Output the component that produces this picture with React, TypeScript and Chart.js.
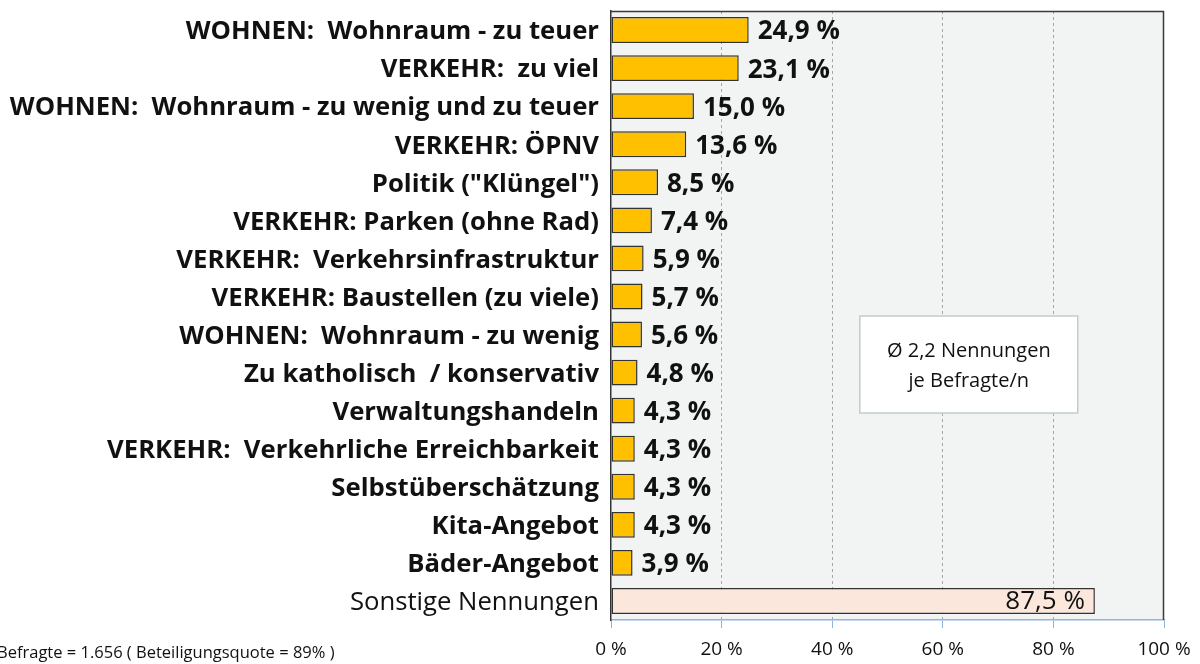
import React, { useEffect, useRef } from "react";
import { Chart, registerables } from "chart.js";

Chart.register(...registerables);

const categories = [
  "WOHNEN:  Wohnraum - zu teuer",
  "VERKEHR:  zu viel",
  "WOHNEN:  Wohnraum - zu wenig und zu teuer",
  "VERKEHR: ÖPNV",
  "Politik (\"Klüngel\")",
  "VERKEHR: Parken (ohne Rad)",
  "VERKEHR:  Verkehrsinfrastruktur",
  "VERKEHR: Baustellen (zu viele)",
  "WOHNEN:  Wohnraum - zu wenig",
  "Zu katholisch  / konservativ",
  "Verwaltungshandeln",
  "VERKEHR:  Verkehrliche Erreichbarkeit",
  "Selbstüberschätzung",
  "Kita-Angebot",
  "Bäder-Angebot",
  "Sonstige Nennungen",
];

const values = [24.9, 23.1, 15.0, 13.6, 8.5, 7.4, 5.9, 5.7, 5.6, 4.8, 4.3, 4.3, 4.3, 4.3, 3.9, 87.5];

const xTicks = [0, 20, 40, 60, 80, 100];

const footnote = "Befragte = 1.656 ( Beteiligungsquote = 89% )";
const noteLines = ["Ø 2,2 Nennungen", "je Befragte/n"];

const FONT = "'Open Sans', sans-serif";

const fmt = (v: number) => v.toFixed(1).replace(".", ",") + " %";

export default function App() {
  const ref = useRef<HTMLCanvasElement | null>(null);

  useEffect(() => {
    if (!ref.current) return;
    const last = categories.length - 1;

    const bgPlugin = {
      id: "bgPlugin",
      beforeDraw(chart: any) {
        const { ctx, chartArea } = chart;
        ctx.save();
        ctx.fillStyle = "#F2F4F3";
        ctx.fillRect(chartArea.left, chartArea.top, chartArea.right - chartArea.left, chartArea.bottom - chartArea.top);
        ctx.restore();
      },
      afterDraw(chart: any) {
        const { ctx, chartArea } = chart;
        ctx.save();
        // top & right frame
        ctx.strokeStyle = "#3a3a3a";
        ctx.lineWidth = 1.5;
        ctx.beginPath();
        ctx.moveTo(chartArea.left, chartArea.top + 0.5);
        ctx.lineTo(chartArea.right - 0.5, chartArea.top + 0.5);
        ctx.lineTo(chartArea.right - 0.5, chartArea.bottom);
        ctx.stroke();

        // note box
        const w = chartArea.right - chartArea.left;
        const h = chartArea.bottom - chartArea.top;
        const bx = chartArea.left + 0.45 * w;
        const bx2 = chartArea.left + 0.844 * w;
        const by = chartArea.top + (305 / 609) * h;
        const by2 = chartArea.top + (402 / 609) * h;
        ctx.fillStyle = "#ffffff";
        ctx.fillRect(bx, by, bx2 - bx, by2 - by);
        ctx.strokeStyle = "#C3CBCE";
        ctx.lineWidth = 1.5;
        ctx.strokeRect(bx, by, bx2 - bx, by2 - by);
        ctx.fillStyle = "#111";
        ctx.font = `20px ${FONT}`;
        ctx.textAlign = "center";
        ctx.textBaseline = "middle";
        const cx = (bx + bx2) / 2;
        const cy = (by + by2) / 2;
        ctx.fillText(noteLines[0], cx, cy - 13);
        ctx.fillText(noteLines[1], cx, cy + 17);

        // footnote
        ctx.textAlign = "left";
        ctx.font = `16.5px ${FONT}`;
        ctx.fillStyle = "#111";
        ctx.fillText(footnote, -3, 653);
        ctx.restore();
      },
      afterDatasetsDraw(chart: any) {
        const { ctx } = chart;
        const meta = chart.getDatasetMeta(0);
        ctx.save();
        ctx.textBaseline = "middle";
        meta.data.forEach((bar: any, i: number) => {
          const v = values[i];
          if (i === last) {
            ctx.font = `26px ${FONT}`;
            ctx.fillStyle = "#111";
            ctx.textAlign = "right";
            ctx.fillText(fmt(v), bar.x - 10, bar.y + 1);
          } else {
            ctx.font = `bold 26px ${FONT}`;
            ctx.fillStyle = "#111";
            ctx.textAlign = "left";
            ctx.fillText(fmt(v), bar.x + 9, bar.y + 2);
          }
        });
        ctx.restore();
      },
    };

    const chart = new Chart(ref.current, {
      type: "bar",
      data: {
        labels: categories,
        datasets: [
          {
            data: values,
            backgroundColor: values.map((_, i) => (i === last ? "#FCE7DC" : "#FFC000")),
            borderColor: "#333333",
            borderWidth: 1.5,
            borderSkipped: false,
            categoryPercentage: 1,
            barPercentage: 0.68,
          },
        ],
      },
      options: {
        indexAxis: "y",
        animation: false,
        responsive: false,
        maintainAspectRatio: false,
        layout: { padding: { top: 11, right: 36, left: 0, bottom: 0 } },
        plugins: { legend: { display: false }, tooltip: { enabled: false } },
        scales: {
          x: {
            min: 0,
            max: 100,
            afterBuildTicks: (scale: any) => {
              scale.ticks = xTicks.map((v) => ({ value: v }));
            },
            afterFit: (scale: any) => {
              scale.height = 44;
              scale.paddingLeft = 0;
              scale.paddingRight = 0;
            },
            ticks: {
              callback: (v: any) => v + " %",
              font: { family: FONT, size: 19 },
              color: "#111",
              padding: 10,
              maxRotation: 0,
            },
            grid: {
              color: (ctx: any) =>
                ctx.tick && (ctx.tick.value === 0 || ctx.tick.value === 100) ? "rgba(0,0,0,0)" : "#A3A7A8",
              tickColor: "#8DB4E2",
              tickLength: 8,
              lineWidth: 1,
            },
            border: { display: true, color: "#8DB4E2", width: 1.5, dash: [3, 3] },
          },
          y: {
            afterFit: (scale: any) => {
              scale.width = 611;
              scale.paddingTop = 0;
              scale.paddingBottom = 0;
            },
            ticks: {
              font: (ctx: any) => ({
                family: FONT,
                size: 25.7,
                weight: ctx.index === last ? "normal" : "bold",
              }),
              color: "#111",
              padding: 12,
              labelOffset: 2,
              autoSkip: false,
            },
            grid: { display: false, drawTicks: false },
            border: { display: true, color: "#333333", width: 1.5 },
          },
        },
      },
      plugins: [bgPlugin],
    } as any);

    return () => chart.destroy();
  }, []);

  return (
    <div style={{ position: "fixed", left: 0, top: 0, width: 1200, height: 664, background: "#fff" }}>
      <canvas ref={ref} width={1200} height={664} style={{ width: 1200, height: 664 }} />
    </div>
  );
}
